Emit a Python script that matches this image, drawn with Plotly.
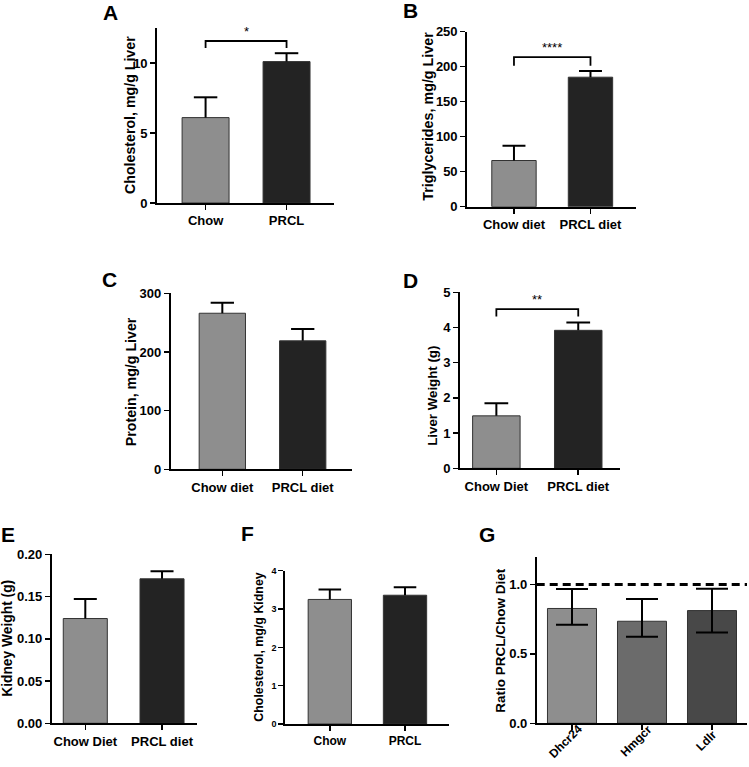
import plotly.graph_objects as go

# ---------------- data ----------------
a_categories = ["Chow", "PRCL"]
a_values = [6.1, 10.1]
a_err = [1.45, 0.6]

b_categories = ["Chow diet", "PRCL diet"]
b_values = [66, 185]
b_err = [21, 9]

c_categories = ["Chow diet", "PRCL diet"]
c_values = [266, 219]
c_err = [18, 20]

d_categories = ["Chow Diet", "PRCL diet"]
d_values = [1.49, 3.92]
d_err = [0.36, 0.22]

e_categories = ["Chow Diet", "PRCL diet"]
e_values = [0.124, 0.171]
e_err = [0.023, 0.009]

f_categories = ["Chow", "PRCL"]
f_values = [3.25, 3.36]
f_err = [0.26, 0.21]

g_categories = ["Dhcr24", "Hmgcr", "Ldlr"]
g_values = [0.827, 0.735, 0.812]
g_err_plus = [0.14, 0.16, 0.157]
g_err_minus = [0.118, 0.112, 0.158]

a_yticks = [0, 5, 10]
b_yticks = [0, 50, 100, 150, 200, 250]
c_yticks = [0, 100, 200, 300]
d_yticks = [0, 1, 2, 3, 4, 5]
e_yticks = [0.0, 0.05, 0.10, 0.15, 0.20]
f_yticks = [0, 1, 2, 3, 4]
g_yticks = [0.0, 0.5, 1.0]

# ---------------- style ----------------
W, H = 749, 767
FONT = "Arial, Liberation Sans, sans-serif"
CHOW = "#8e8e8e"
PRCL = "#232323"
G_COLORS = ["#8e8e8e", "#6b6b6b", "#484848"]


def px(x):
    return x / W


def py(y):
    return 1 - y / H


fig = go.Figure()

panels = [
    dict(key="", cats=a_categories, vals=a_values, err=a_err, colors=[CHOW, PRCL],
         box=(157, 334, 203, 28), xr=[-0.6, 1.586], yr=[0, 12.5], ytv=a_yticks, yfmt="",
         bw=0.58, cap=0.145, tfs=13, xfs=13),
    dict(key="2", cats=b_categories, vals=b_values, err=b_err, colors=[CHOW, PRCL],
         box=(467, 636, 206.7, 31.7), xr=[-0.614, 1.595], yr=[0, 250], ytv=b_yticks, yfmt="",
         bw=0.58, cap=0.15, tfs=13, xfs=13),
    dict(key="3", cats=c_categories, vals=c_values, err=c_err, colors=[CHOW, PRCL],
         box=(170.7, 352, 469.3, 293.3), xr=[-0.642, 1.613], yr=[0, 300], ytv=c_yticks, yfmt="",
         bw=0.576, cap=0.145, tfs=13, xfs=13),
    dict(key="4", cats=d_categories, vals=d_values, err=d_err, colors=[CHOW, PRCL],
         box=(460, 620, 468.3, 292.3), xr=[-0.444, 1.51], yr=[0, 5], ytv=d_yticks, yfmt="",
         bw=0.58, cap=0.145, tfs=13, xfs=13),
    dict(key="5", cats=e_categories, vals=e_values, err=e_err, colors=[CHOW, PRCL],
         box=(51.7, 196.7, 723.3, 554.3), xr=[-0.438, 1.452], yr=[0, 0.2], ytv=e_yticks, yfmt=".2f",
         bw=0.574, cap=0.15, tfs=13, xfs=13),
    dict(key="6", cats=f_categories, vals=f_values, err=f_err, colors=[CHOW, PRCL],
         box=(285, 449.3, 724, 570.7), xr=[-0.596, 1.589], yr=[0, 4], ytv=f_yticks, yfmt="",
         bw=0.576, cap=0.15, tfs=9, xfs=12),
]

for p in panels:
    k = p["key"]
    xs = list(range(len(p["cats"])))
    fig.add_trace(go.Bar(
        x=xs, y=p["vals"], width=p["bw"],
        marker=dict(color=p["colors"], line=dict(color="#333333", width=1)),
        xaxis="x" + k, yaxis="y" + k, showlegend=False,
    ))
    ex, ey = [], []
    for i, (v, e) in enumerate(zip(p["vals"], p["err"])):
        ex += [i, i, None, i - p["cap"], i + p["cap"], None]
        ey += [v, v + e, None, v + e, v + e, None]
    fig.add_trace(go.Scatter(
        x=ex, y=ey, mode="lines", line=dict(color="black", width=2),
        xaxis="x" + k, yaxis="y" + k, showlegend=False, hoverinfo="skip",
    ))

# panel G
fig.add_trace(go.Bar(
    x=list(range(len(g_categories))), y=g_values, width=0.70,
    marker=dict(color=G_COLORS, line=dict(color="#333333", width=1)),
    error_y=dict(type="data", symmetric=False, array=g_err_plus, arrayminus=g_err_minus,
                 color="black", thickness=2, width=16),
    xaxis="x7", yaxis="y7", showlegend=False,
))
g_panel = dict(key="7", cats=g_categories, box=(536.7, 747, 723.3, 556.7), xr=[-0.504, 2.5],
               yr=[0, 1.2], ytv=g_yticks, yfmt=".1f", tfs=13, xfs=12)

layout = dict(
    template="none",
    width=W, height=H, margin=dict(l=0, r=0, t=0, b=0, autoexpand=False),
    paper_bgcolor="white", plot_bgcolor="white",
    font=dict(family=FONT, size=13, color="black", weight="bold"),
    showlegend=False, bargap=0,
)

axis_common = dict(showline=True, linecolor="black", linewidth=1.8, showgrid=False,
                   zeroline=False, ticks="outside", ticklen=5, tickwidth=1.5,
                   tickcolor="black", fixedrange=True, automargin=False)

for p in panels + [g_panel]:
    k = p["key"]
    x0, x1, yb, yt = p["box"]
    xa = dict(axis_common, domain=[px(x0), px(x1)], range=p["xr"], anchor="y" + k,
              tickmode="array", tickvals=list(range(len(p["cats"]))), ticktext=p["cats"],
              tickfont=dict(family=FONT, size=p["xfs"], color="black", weight="bold"))
    if k == "7":
        xa["showticklabels"] = False
    ya = dict(axis_common, domain=[py(yb), py(yt)], range=p["yr"], anchor="x" + k,
              tickmode="array", tickvals=p["ytv"],
              tickfont=dict(family=FONT, size=p["tfs"], color="black", weight="bold"))
    if p["yfmt"]:
        ya["tickformat"] = p["yfmt"]
    layout["xaxis" + k] = xa
    layout["yaxis" + k] = ya

fig.update_layout(**layout)

# rotated category labels for G
for i, c in enumerate(g_categories):
    fig.add_annotation(x=i, y=py(741), xref="x7", yref="paper", text=c, showarrow=False,
                       textangle=-45, xanchor="center", yanchor="middle", xshift=-6,
                       font=dict(family=FONT, size=12, color="black", weight="bold"))

# significance brackets
brackets = [("", 11.07, 11.57, "*"), ("2", 201.4, 213.8, "****"), ("4", 4.31, 4.52, "**")]
for k, lo, hi, star in brackets:
    fig.add_shape(type="path", path=f"M 0,{lo} L 0,{hi} L 1,{hi} L 1,{lo}",
                  xref="x" + k, yref="y" + k, line=dict(color="black", width=1.8))
    fig.add_annotation(x=0.5, y=hi, xref="x" + k, yref="y" + k, text=star, showarrow=False,
                       yanchor="bottom",
                       font=dict(family=FONT, size=13, color="black", weight="normal"))

# dashed reference line in G
fig.add_shape(type="line", xref="x7 domain", yref="y7", x0=0, x1=1, y0=1.0, y1=1.0,
              line=dict(color="black", width=3, dash="8px,5px"))

# panel letters
letters = [("A", 110, 12.5), ("B", 410.5, 10.5), ("C", 109, 279.5), ("D", 410, 280),
           ("E", 8, 534), ("F", 247.5, 533.5), ("G", 486.5, 534.5)]
for t, x, y in letters:
    fig.add_annotation(x=px(x), y=py(y), xref="paper", yref="paper", text=t, showarrow=False,
                       xanchor="center", yanchor="middle",
                       font=dict(family=FONT, size=21, color="black", weight="bold"))

# y-axis titles
ytitles = [("Cholesterol, mg/g Liver", 130, 115, 14.2),
           ("Triglycerides, mg/g Liver", 428, 116.7, 14.3),
           ("Protein, mg/g Liver", 130.5, 381.7, 14.2),
           ("Liver Weight (g)", 433, 395.8, 13.3),
           ("Kidney Weight (g)", 7.5, 638.3, 13.8),
           ("Cholesterol, mg/g Kidney", 259, 646.7, 12.4),
           ("Ratio PRCL/Chow Diet", 501, 640.8, 13.5)]
for t, x, y, s in ytitles:
    fig.add_annotation(x=px(x), y=py(y), xref="paper", yref="paper", text=t, showarrow=False,
                       textangle=-90, xanchor="center", yanchor="middle",
                       font=dict(family=FONT, size=s, color="black", weight="bold"))

fig.write_html(
    "out.html",
    config={"displayModeBar": False, "staticPlot": True},
    post_script="document.body.style.margin='0';document.body.style.overflow='hidden';",
)
